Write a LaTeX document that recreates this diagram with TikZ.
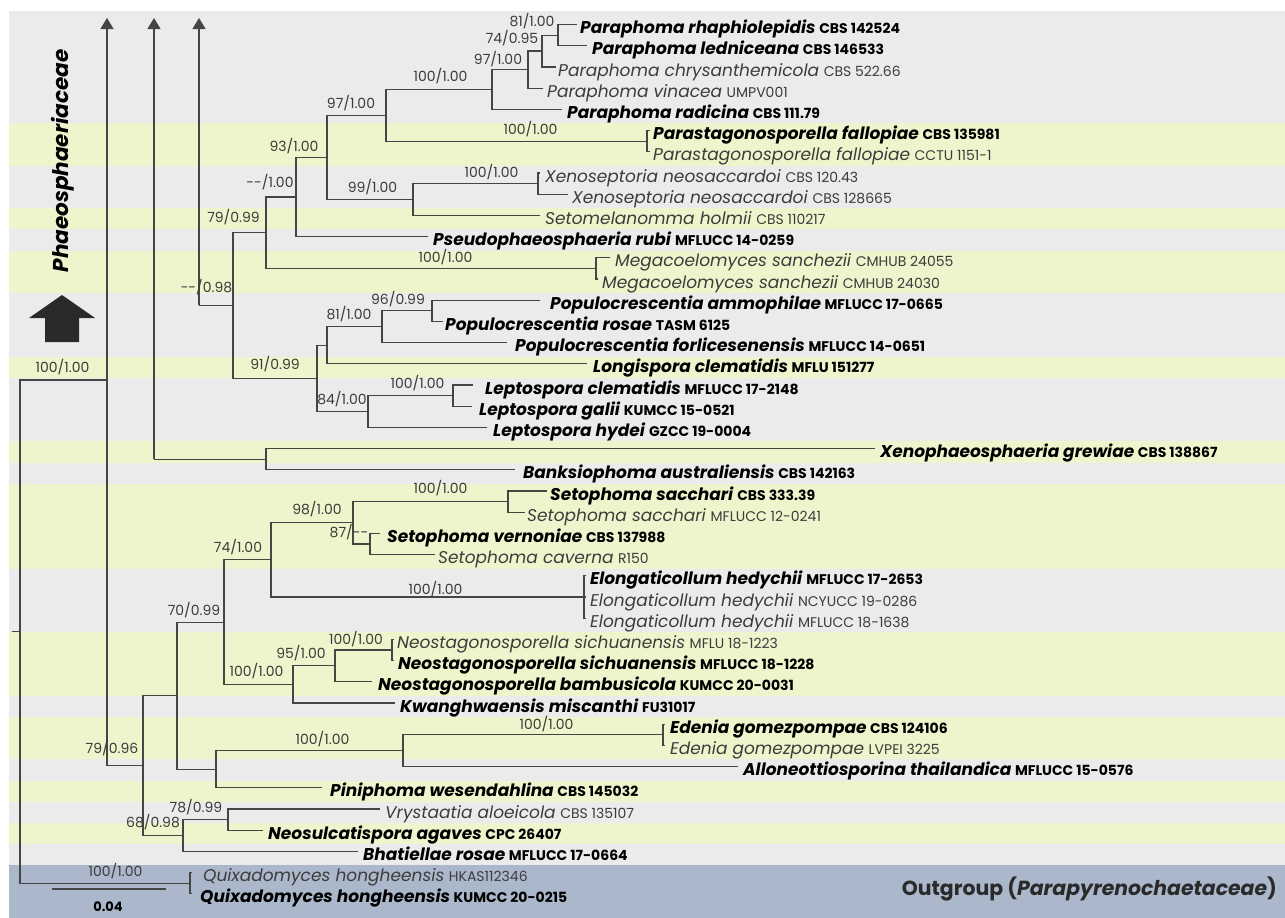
\documentclass[tikz,border=0pt]{standalone}
\usepackage{fontspec}
\setmainfont{Poppins}
\usetikzlibrary{arrows.meta}
\definecolor{bgG}{HTML}{EBEBEB}
\definecolor{bgY}{HTML}{EEF5CC}
\definecolor{bgB}{HTML}{ABB7CB}
\definecolor{ln}{HTML}{454545}
\definecolor{tg}{HTML}{3C3C3C}
\definecolor{dk}{HTML}{2A2A2A}
\newcommand\cdx[1]{{\fontsize{14}{14}\selectfont\upshape #1}}
\newcommand\tb[4]{\node[taxb] (t#1) at (#4,{24.5+21.2*#1+9.2}) {\textit{#2} \cdx{#3}};}
\newcommand\tr[4]{\node[taxr] (t#1) at (#4,{24.5+21.2*#1+9.2}) {\textit{#2} \cdx{#3}};}
\tikzset{
  br/.style={draw=ln,line width=1.2pt},
  taxb/.style={anchor=base west,inner sep=0pt,font=\fontsize{17}{17}\selectfont\bfseries,text=black},
  taxr/.style={anchor=base west,inner sep=0pt,font=\fontsize{17}{17}\selectfont,text=tg},
  sup/.style={anchor=base,inner sep=0pt,font=\fontsize{14}{14}\selectfont,text=tg},
  arr/.style={br,-{Triangle[width=13pt,length=11pt]}}
}
\begin{document}
\begin{tikzpicture}[x=1pt,y=-1pt]
\useasboundingbox (0,0) rectangle (1285,918);
% background stripes
\fill[bgG] (9,11) rectangle (1285,865.4);
\foreach \a/\b in {123.4/165.8,208.2/229.4,250.6/293.0,356.6/377.8,441.4/462.6,483.8/568.6,632.2/695.8,717.0/759.4,780.6/801.8,823.0/844.2}
  \fill[bgY] (9,\a) rectangle (1285,\b);
\fill[bgB] (9,865.4) rectangle (1285,918);
% tip coordinates
\foreach \i/\x in {0/577,1/587,2/556,3/543,4/562,5/650,6/650,7/540,8/568,9/540,10/428,11/610,12/598,13/540,14/443,15/507,16/587,17/473,18/472,19/487,20/875,21/515,22/547,23/525,24/380,25/435,26/586,27/586,28/586,29/394,30/394,31/372,32/395,33/665,34/665,35/738,36/322,37/380,38/263,39/358,40/192,41/192}
  \coordinate (e\i) at (\x,{24.5+21.2*\i});
% internal nodes
\coordinate (a558) at (558,35.1);
\coordinate (a542) at (542,51.0);
\coordinate (a528) at (528,69.55);
\coordinate (a492) at (492,89.4);
\coordinate (a647) at (647,141.1);
\coordinate (a386) at (386,115.25);
\coordinate (a538) at (538,183.5);
\coordinate (a413) at (413,199.4);
\coordinate (a327) at (327,157.3);
\coordinate (a296) at (296,196.9);
\coordinate (a596) at (596,268.3);
\coordinate (a266) at (266,232.6);
\coordinate (a432) at (432,310.7);
\coordinate (a382) at (382,326.6);
\coordinate (a327c) at (327,345.15);
\coordinate (a453) at (453,395.5);
\coordinate (a368) at (368,411.4);
\coordinate (a317) at (317,378.3);
\coordinate (a233) at (233,305.45);
\coordinate (j199) at (199,305.45);
\coordinate (top3) at (199,18);
\coordinate (a266x) at (266,459.1);
\coordinate (j154) at (154,459.1);
\coordinate (top2) at (154,18);
\coordinate (a508) at (508,501.5);
\coordinate (a370) at (370,543.9);
\coordinate (a353) at (353,522.7);
\coordinate (a584) at (584,596.9);
\coordinate (a271) at (271,559.8);
\coordinate (a392) at (392,649.9);
\coordinate (a335) at (335,665.8);
\coordinate (a293) at (293,684.35);
\coordinate (a224) at (224,622.1);
\coordinate (a663) at (663,734.7);
\coordinate (a403) at (403,750.6);
\coordinate (a216) at (216,769.15);
\coordinate (a177) at (177,695.6);
\coordinate (a228) at (228,819.5);
\coordinate (a183) at (183,835.4);
\coordinate (a143) at (143,765.5);
\coordinate (j107b) at (107,765.5);
\coordinate (j107) at (107,380);
\coordinate (top1) at (107,18);
\coordinate (a190) at (190,883.1);
\coordinate (rt) at (20,631.5);
\coordinate (rt0) at (12,631.5);
% branches
\foreach \p/\c in {a558/e0,a558/e1,a542/a558,a542/e2,a528/a542,a528/e3,a492/a528,a492/e4,
  a647/e5,a647/e6,a386/a492,a386/a647,a538/e7,a538/e8,a413/a538,a413/e9,a327/a386,a327/a413,
  a296/a327,a296/e10,a596/e11,a596/e12,a266/a296,a266/a596,a432/e13,a432/e14,a382/a432,a382/e15,
  a327c/a382,a327c/e16,a453/e17,a453/e18,a368/a453,a368/e19,a317/a327c,a317/a368,a233/a266,a233/a317,
  j199/a233,a266x/e20,a266x/e21,j154/a266x,a508/e22,a508/e23,a370/e24,a370/e25,a353/a508,a353/a370,
  a584/e26,a584/e27,a584/e28,a271/a353,a271/a584,a392/e29,a392/e30,a335/a392,a335/e31,a293/a335,a293/e32,
  a224/a271,a224/a293,a663/e33,a663/e34,a403/a663,a403/e35,a216/a403,a216/e36,a177/a224,a177/a216,
  a228/e37,a228/e38,a183/a228,a183/e39,a143/a177,a143/a183,j107b/a143,a190/e40,a190/e41,rt/j107,rt/a190,rt/rt0}
  \draw[br] (\p) |- (\c);
\draw[arr] (j199) -- (top3);
\draw[arr] (j154) -- (top2);
\draw[arr] (j107b) -- (top1);
% support values
\node[sup] (l1) at (532,26.5) {81/1.00};
\node[sup] (l2) at (512,43.5) {74/0.95};
\node[sup] (l3) at (498,64.5) {97/1.00};
\node[sup] (l4) at (440.5,81.5) {100/1.00};
\node[sup] (l5) at (351,108.5) {97/1.00};
\node[sup] (l6) at (530.5,134.5) {100/1.00};
\node[sup] (l7) at (294,151.5) {93/1.00};
\node[sup] (l8) at (372.5,192.5) {99/1.00};
\node[sup] (l9) at (491.5,177.5) {100/1.00};
\node[sup] (l10) at (270,187.5) {{-}{-}/1.00};
\node[sup] (l11) at (233.5,222.5) {79/0.99};
\node[sup] (l12) at (445.5,262.5) {100/1.00};
\node[sup] (l13) at (206.5,292.5) {{-}{-}/0.98};
\node[sup] (l14) at (398,304.5) {96/0.99};
\node[sup] (l15) at (349,319.5) {81/1.00};
\node[sup] (l16) at (275,369.5) {91/0.99};
\node[sup] (l17) at (417.5,388.5) {100/1.00};
\node[sup] (l18) at (342,404.5) {84/1.00};
\node[sup] (l19) at (62.5,372.5) {100/1.00};
\node[sup] (l20) at (440.5,493.5) {100/1.00};
\node[sup] (l21) at (317,514.5) {98/1.00};
\node[sup] (l22) at (349,537.5) {87/{-}{-}};
\node[sup] (l23) at (238,552.5) {74/1.00};
\node[sup] (l24) at (435.5,594.5) {100/1.00};
\node[sup] (l25) at (194,615.5) {70/0.99};
\node[sup] (l26) at (356,644.5) {100/1.00};
\node[sup] (l27) at (301,658.5) {95/1.00};
\node[sup] (l28) at (256.5,676.5) {100/1.00};
\node[sup] (l29) at (322.5,744.5) {100/1.00};
\node[sup] (l30) at (546.5,729.5) {100/1.00};
\node[sup] (l31) at (112,753.5) {79/0.96};
\node[sup] (l32) at (196,812.5) {78/0.99};
\node[sup] (l33) at (153,827.5) {68/0.98};
\node[sup] (l34) at (115.5,876.5) {100/1.00};
% taxa
\tb{0}{Paraphoma rhaphiolepidis}{CBS 142524}{580}
\tb{1}{Paraphoma ledniceana}{CBS 146533}{592}
\tr{2}{Paraphoma chrysanthemicola}{CBS 522.66}{558}
\tr{3}{Paraphoma vinacea}{UMPV001}{547}
\tb{4}{Paraphoma radicina}{CBS 111.79}{567}
\tb{5}{Parastagonosporella fallopiae}{CBS 135981}{653}
\tr{6}{Parastagonosporella fallopiae}{CCTU 1151-1}{653}
\tr{7}{Xenoseptoria neosaccardoi}{CBS 120.43}{545}
\tr{8}{Xenoseptoria neosaccardoi}{CBS 128665}{572}
\tr{9}{Setomelanomma holmii}{CBS 110217}{545}
\tb{10}{Pseudophaeosphaeria rubi}{MFLUCC 14-0259}{433}
\tr{11}{Megacoelomyces sanchezii}{CMHUB 24055}{615}
\tr{12}{Megacoelomyces sanchezii}{CMHUB 24030}{602}
\tb{13}{Populocrescentia ammophilae}{MFLUCC 17-0665}{550}
\tb{14}{Populocrescentia rosae}{TASM 6125}{445}
\tb{15}{Populocrescentia forlicesenensis}{MFLUCC 14-0651}{515}
\tb{16}{Longispora clematidis}{MFLU 151277}{593}
\tb{17}{Leptospora clematidis}{MFLUCC 17-2148}{485}
\tb{18}{Leptospora galii}{KUMCC 15-0521}{479}
\tb{19}{Leptospora hydei}{GZCC 19-0004}{493}
\tb{20}{Xenophaeosphaeria grewiae}{CBS 138867}{880}
\tb{21}{Banksiophoma australiensis}{CBS 142163}{523}
\tb{22}{Setophoma sacchari}{CBS 333.39}{550}
\tr{23}{Setophoma sacchari}{MFLUCC 12-0241}{527}
\tb{24}{Setophoma vernoniae}{CBS 137988}{387}
\tr{25}{Setophoma caverna}{R150}{438}
\tb{26}{Elongaticollum hedychii}{MFLUCC 17-2653}{590}
\tr{27}{Elongaticollum hedychii}{NCYUCC 19-0286}{590}
\tr{28}{Elongaticollum hedychii}{MFLUCC 18-1638}{590}
\tr{29}{Neostagonosporella sichuanensis}{MFLU 18-1223}{397}
\tb{30}{Neostagonosporella sichuanensis}{MFLUCC 18-1228}{398}
\tb{31}{Neostagonosporella bambusicola}{KUMCC 20-0031}{378}
\tb{32}{Kwanghwaensis miscanthi}{FU31017}{400}
\tb{33}{Edenia gomezpompae}{CBS 124106}{670}
\tr{34}{Edenia gomezpompae}{LVPEI 3225}{670}
\tb{35}{Alloneottiosporina thailandica}{MFLUCC 15-0576}{743}
\tb{36}{Piniphoma wesendahlina}{CBS 145032}{330}
\tr{37}{Vrystaatia aloeicola}{CBS 135107}{385}
\tb{38}{Neosulcatispora agaves}{CPC 26407}{268}
\tb{39}{Bhatiellae rosae}{MFLUCC 17-0664}{363}
\tr{40}{Quixadomyces hongheensis}{HKAS112346}{203}
\tb{41}{Quixadomyces hongheensis}{KUMCC 20-0215}{200}
% family label and big arrow
\node[rotate=90,inner sep=0pt,font=\fontsize{21.5}{21.5}\selectfont\bfseries\itshape] (fam) at (63,161) {Phaeosphaeriaceae};
\fill[dk] (29,318) -- (62,295) -- (95,318) -- (79,318) -- (79,342) -- (45,342) -- (45,318) -- cycle;
% outgroup
\node[anchor=east,inner sep=0pt,font=\fontsize{20.4}{20.4}\selectfont\bfseries,text=dk] (og) at (1277,889) {Outgroup (\textit{Parapyrenochaetaceae})};
% scale bar
\coordinate (sb1) at (52,889);
\coordinate (sb2) at (166,889);
\draw[br] (sb1) -- (sb2);
\node[inner sep=0pt,font=\fontsize{13}{13}\selectfont\bfseries] (sbl) at (108,907) {0.04};
\end{tikzpicture}
\end{document}
